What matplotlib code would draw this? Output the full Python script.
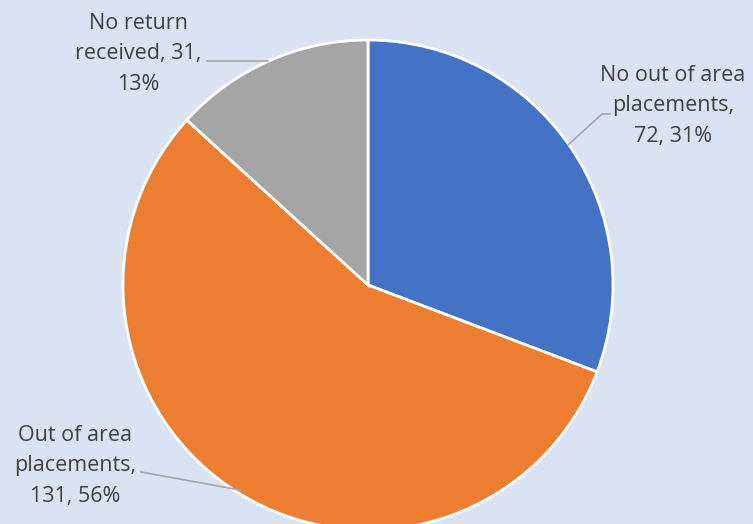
import matplotlib
matplotlib.use("Agg")
import matplotlib.pyplot as plt

labels = ["No out of area\nplacements,\n72, 31%", "Out of area\nplacements,\n131, 56%", "No return\nreceived, 31,\n13%"]
values = [72, 131, 31]
colors = ["#4472C4", "#ED7D31", "#A5A5A5"]

W, H = 753, 524
bg = "#DAE3F3"
fig = plt.figure(figsize=(W / 100, H / 100), dpi=100, facecolor=bg)
ax = fig.add_axes([0, 0, 1, 1])
ax.set_facecolor(bg)

cx, cy, r = 368, H - 285, 245
ax.pie(values, colors=colors, startangle=90, counterclock=False, center=(cx, cy), radius=r,
       wedgeprops=dict(edgecolor="white", linewidth=2), frame=True)
ax.set_xlim(0, W)
ax.set_ylim(0, H)
ax.set_aspect("equal")
ax.axis("off")

tcol = "#404040"
fs = 15.5
ls = 1.6
ax.text(673, H - 106, labels[0], ha="center", va="center", fontsize=fs, color=tcol,
        family="Open Sans", linespacing=ls)
ax.text(75, H - 466, labels[1], ha="center", va="center", fontsize=fs, color=tcol,
        family="Open Sans", linespacing=ls)
ax.text(138, H - 54, labels[2], ha="center", va="center", fontsize=fs, color=tcol,
        family="Open Sans", linespacing=ls)

lc = "#A6A6A6"
ax.plot([568, 602, 610], [H - 145, H - 114, H - 114], color=lc, lw=1.2)
ax.plot([141, 240], [H - 472, H - 490], color=lc, lw=1.2)
ax.plot([207, 268], [H - 61, H - 61], color=lc, lw=1.2)

fig.savefig("out.png", dpi=100, facecolor=bg)
